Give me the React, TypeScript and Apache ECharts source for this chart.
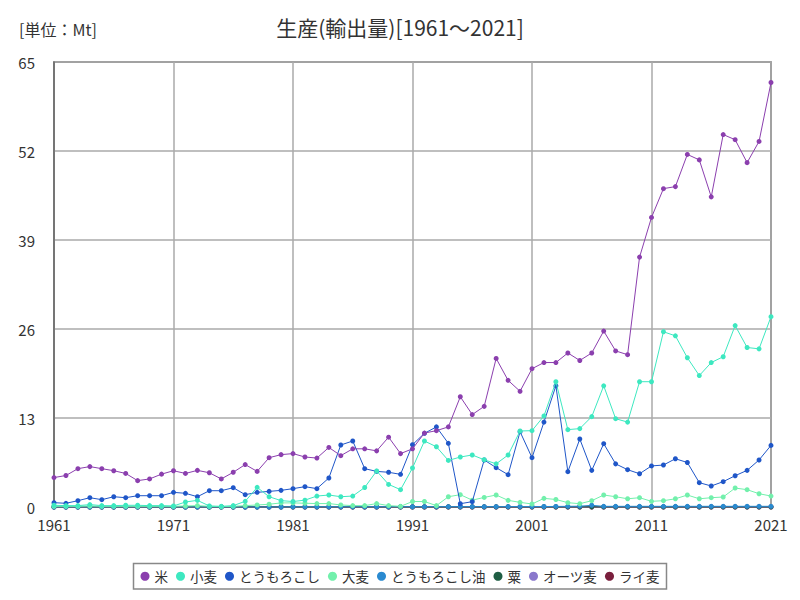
import React, { useEffect, useRef } from "react";
import * as echarts from "echarts";

const years: string[] = [];
for (let y = 1961; y <= 2021; y++) years.push(String(y));

const seriesNames = ["米", "小麦", "とうもろこし", "大麦", "とうもろこし油", "粟", "オーツ麦", "ライ麦"];
const seriesColors = ["#8b3fae", "#3de8c0", "#1f56c8", "#72f0ac", "#2a8ad0", "#1f5e44", "#8a78cc", "#7a1f3d"];

const rice = [
  4.3, 4.6, 5.6, 5.9, 5.6, 5.3, 4.9, 3.85, 4.1, 4.8,
  5.3, 4.9, 5.35, 5.0, 4.1, 5.07, 6.2, 5.2, 7.2, 7.65,
  7.8, 7.3, 7.15, 8.7, 7.5, 8.5, 8.5, 8.2, 10.2, 7.8,
  8.5, 10.8, 11.15, 11.7, 16.1, 13.5, 14.7, 21.7, 18.5, 16.9,
  20.2, 21.1, 21.1, 22.5, 21.4, 22.5, 25.7, 22.8, 22.25, 36.5,
  42.3, 46.5, 46.8, 51.5, 50.7, 45.3, 54.4, 53.65, 50.3, 53.4,
  62.0,
];
const wheat = [
  0.25, 0.2, 0.2, 0.35, 0.2, 0.2, 0.25, 0.25, 0.2, 0.2,
  0.15, 0.73, 0.97, 0.15, 0.1, 0.2, 0.83, 2.87, 1.5, 0.93,
  0.8, 1.0, 1.6, 1.75, 1.5, 1.6, 2.85, 5.26, 3.3, 2.53,
  5.7, 9.64, 8.8, 6.8, 7.3, 7.6, 6.9, 6.3, 7.6, 11.1,
  11.15, 13.3, 18.3, 11.3, 11.45, 13.2, 17.7, 12.9, 12.4, 18.3,
  18.3, 25.6, 25.0, 21.8, 19.2, 21.1, 21.95, 26.5, 23.3, 23.1,
  27.8,
];
const corn = [
  0.63, 0.54, 0.92, 1.36, 1.07, 1.5, 1.36, 1.65, 1.65, 1.65,
  2.14, 2.0, 1.5, 2.38, 2.38, 2.82, 1.8, 2.14, 2.28, 2.43,
  2.68, 2.97, 2.68, 4.24, 9.06, 9.64, 5.6, 5.2, 5.07, 4.77,
  9.1, 10.76, 11.7, 9.3, 0.48, 0.78, 6.87, 5.75, 4.72, 11.0,
  7.2, 12.4, 17.7, 5.16, 9.93, 5.35, 9.25, 6.3, 5.45, 4.86,
  6.0, 6.13, 7.05, 6.5, 3.55, 3.07, 3.7, 4.57, 5.35, 6.87,
  9.0,
];
const barley = [
  0.1, 0.1, 0.1, 0.15, 0.1, 0.1, 0.1, 0.1, 0.1, 0.1,
  0.1, 0.15, 0.2, 0.1, 0.05, 0.1, 0.2, 0.3, 0.4, 0.6,
  0.6, 0.55, 0.5, 0.5, 0.3, 0.2, 0.2, 0.5, 0.2, 0.1,
  0.8, 0.8, 0.2, 1.5, 1.8, 1.0, 1.4, 1.75, 0.97, 0.68,
  0.44, 1.26, 1.1, 0.63, 0.48, 0.92, 1.75, 1.5, 1.2, 1.36,
  0.83, 0.92, 1.2, 1.75, 1.2, 1.36, 1.46, 2.77, 2.53, 1.94,
  1.6,
];
const cornOil = [
  0, 0, 0, 0, 0, 0, 0, 0, 0, 0,
  0, 0, 0, 0, 0, 0, 0, 0, 0, 0,
  0.02, 0.02, 0.03, 0.03, 0.03, 0.03, 0.03, 0.04, 0.04, 0.04,
  0.04, 0.05, 0.05, 0.05, 0.05, 0.05, 0.05, 0.05, 0.06, 0.06,
  0.06, 0.07, 0.08, 0.1, 0.12, 0.25, 0.1, 0.1, 0.1, 0.1,
  0.1, 0.1, 0.1, 0.1, 0.1, 0.1, 0.1, 0.1, 0.1, 0.1,
  0.1,
];
const millet = [
  0.02, 0.02, 0.02, 0.02, 0.02, 0.02, 0.02, 0.02, 0.02, 0.02,
  0.02, 0.02, 0.02, 0.02, 0.02, 0.02, 0.02, 0.02, 0.02, 0.02,
  0.02, 0.02, 0.02, 0.02, 0.02, 0.02, 0.02, 0.02, 0.02, 0.02,
  0.02, 0.02, 0.02, 0.02, 0.02, 0.02, 0.02, 0.02, 0.02, 0.02,
  0.02, 0.02, 0.02, 0.02, 0.02, 0.02, 0.02, 0.02, 0.02, 0.02,
  0.02, 0.02, 0.02, 0.02, 0.02, 0.02, 0.02, 0.02, 0.02, 0.02,
  0.02,
];
const oats = [
  0.01, 0.01, 0.01, 0.01, 0.01, 0.01, 0.01, 0.01, 0.01, 0.01,
  0.01, 0.01, 0.01, 0.01, 0.01, 0.01, 0.01, 0.01, 0.01, 0.01,
  0.01, 0.01, 0.01, 0.01, 0.01, 0.01, 0.01, 0.01, 0.01, 0.01,
  0.01, 0.01, 0.01, 0.01, 0.01, 0.01, 0.01, 0.01, 0.01, 0.01,
  0.01, 0.01, 0.01, 0.01, 0.01, 0.01, 0.01, 0.01, 0.01, 0.01,
  0.01, 0.01, 0.01, 0.01, 0.01, 0.01, 0.01, 0.01, 0.01, 0.01,
  0.01,
];
const rye = [
  0, 0, 0, 0, 0, 0, 0, 0, 0, 0,
  0, 0, 0, 0, 0, 0, 0, 0, 0, 0,
  0, 0, 0, 0, 0, 0, 0, 0, 0, 0,
  0, 0, 0, 0, 0, 0, 0, 0, 0, 0,
  0, 0, 0, 0, 0, 0, 0, 0, 0, 0,
  0, 0, 0, 0, 0, 0, 0, 0, 0, 0,
  0,
];

const seriesData = [rice, wheat, corn, barley, cornOil, millet, oats, rye];
const yTicks = [0, 13, 26, 39, 52, 65];

const FONT = "'Noto Sans CJK JP', 'Noto Sans', sans-serif";

export default function App() {
  const ref = useRef<HTMLDivElement>(null);
  useEffect(() => {
    document.body.style.margin = "0";
    if (!ref.current) return;
    const chart = echarts.init(ref.current, undefined, { renderer: "svg" });
    const option: any = {
      animation: false,
      backgroundColor: "#ffffff",
      textStyle: { fontFamily: FONT },
      title: [
        {
          text: "生産(輸出量)[1961～2021]",
          left: "center",
          top: 11,
          textStyle: { fontSize: 21, fontWeight: "normal", color: "#333", fontFamily: FONT },
        },
        {
          text: "[単位：Mt]",
          left: 14,
          top: 16,
          textStyle: { fontSize: 16, fontWeight: "normal", color: "#333", fontFamily: FONT },
        },
      ],
      legend: {
        bottom: 11,
        left: "center",
        data: seriesNames,
        icon: "circle",
        itemWidth: 9,
        itemHeight: 9,
        itemGap: 8,
        borderColor: "#888",
        borderWidth: 1.5,
        padding: [6, 7],
        textStyle: { fontSize: 13.5, color: "#333", fontFamily: FONT },
      },
      grid: {
        left: 54,
        right: 29,
        top: 62,
        bottom: 93,
        show: true,
        borderColor: "#666",
        borderWidth: 1.5,
      },
      xAxis: {
        type: "category",
        data: years,
        boundaryGap: false,
        axisLine: { lineStyle: { color: "#666", width: 1.5 } },
        axisTick: { show: false },
        axisLabel: {
          interval: 9,
          fontSize: 15,
          color: "#333",
          margin: 10,
          fontFamily: FONT,
        },
        splitLine: { show: true, interval: 9, lineStyle: { color: "#aaa", width: 1.5 } },
      },
      yAxis: {
        type: "value",
        min: 0,
        max: yTicks[yTicks.length - 1],
        interval: yTicks[1] - yTicks[0],
        axisLine: { show: true, lineStyle: { color: "#666", width: 1.5 } },
        axisTick: { show: false },
        axisLabel: { fontSize: 15, color: "#333", margin: 19, fontFamily: FONT },
        splitLine: { show: true, lineStyle: { color: "#aaa", width: 1.5 } },
      },
      series: seriesNames.map((name, i) => ({
        name,
        type: "line",
        data: seriesData[i],
        symbol: "circle",
        symbolSize: 5,
        showSymbol: true,
        itemStyle: { color: seriesColors[i] },
        lineStyle: { color: seriesColors[i], width: 1 },
        z: 2 + (seriesNames.length - i),
      })),
    };
    chart.setOption(option);
    return () => chart.dispose();
  }, []);
  return <div ref={ref} style={{ width: 800, height: 600 }} />;
}
